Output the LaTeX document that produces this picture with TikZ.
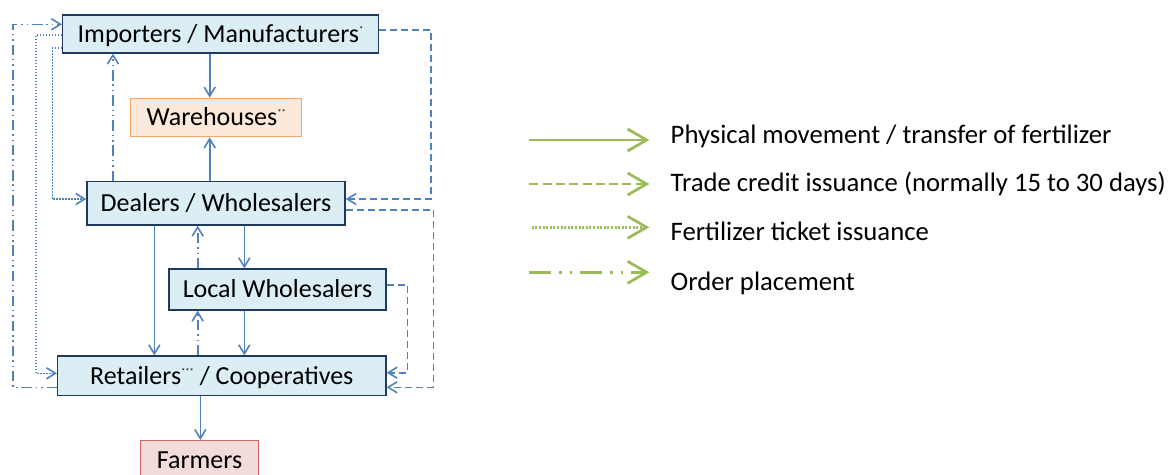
\documentclass[tikz,border=0pt]{standalone}
\usepackage{fontspec}
\setmainfont{Carlito}
\usetikzlibrary{arrows.meta}
\definecolor{lnblue}{HTML}{4F81BD}
\definecolor{boxdraw}{HTML}{1F3A60}
\definecolor{boxfill}{HTML}{DBEEF4}
\definecolor{whfill}{HTML}{FDE9D9}
\definecolor{whdraw}{HTML}{F8A65E}
\definecolor{fmfill}{HTML}{F2DCDB}
\definecolor{fmdraw}{HTML}{CD6461}
\definecolor{legc}{HTML}{9BBB59}
\newcommand{\tinystar}[1]{\raisebox{10pt}{\fontsize{8.5}{8.5}\selectfont #1}}
\tikzset{
  nodebox/.style={draw=boxdraw, fill=boxfill, line width=1.4pt, inner sep=0pt,
    text height=16.7pt, text depth=0pt},
  whbox/.style={nodebox, draw=whdraw, fill=whfill},
  fmbox/.style={nodebox, draw=fmdraw, fill=fmfill},
  conn/.style={draw=lnblue, line width=1.6pt, -{Straight Barb[length=9pt,width=11pt]}},
  flowphys/.style={conn},
  flowcredit/.style={conn, dash pattern=on 7pt off 4pt},
  flowticket/.style={conn, dash pattern=on 1.5pt off 1.5pt},
  floworder/.style={conn, dash pattern=on 10.4pt off 3.9pt on 1.5pt off 3.9pt on 1.5pt off 3.9pt},
  legline/.style={draw=legc, line width=2.7pt, -{Straight Barb[length=19pt,width=22pt]}},
  legtext/.style={anchor=base west, inner sep=0pt, font=\fontsize{26.7}{30}\selectfont}
}
\begin{document}
\begin{tikzpicture}[x=1pt,y=-1pt,font=\fontsize{26}{30}\selectfont]
\useasboundingbox (0,0) rectangle (1170,474);
\clip (0,0) rectangle (1170,474);

% nodes
\node[nodebox, minimum width=315.6pt, minimum height=37.7pt] (imp) at (220.5,34) {Importers / Manufacturers\tinystar{*}};
\node[whbox, minimum width=171pt, minimum height=38.4pt] (wh) at (216.2,117.5) {Warehouses\tinystar{**}};
\node[nodebox, minimum width=258pt, minimum height=43.3pt] (dl) at (216,203.3) {Dealers / Wholesalers};
\node[nodebox, minimum width=217pt, minimum height=41pt] (lw) at (277.5,289.5) {Local Wholesalers};
\node[nodebox, minimum width=328.3pt, minimum height=39.3pt] (rt) at (221.8,375.7) {Retailers\tinystar{***} / Cooperatives};
\node[fmbox, minimum width=117.6pt, minimum height=39.6pt] (fm) at (199.5,460.5) {Farmers};

% lane coordinates
\coordinate (xa) at (209.7,0);
\coordinate (xb) at (113,0);
\coordinate (xc) at (154.3,0);
\coordinate (xd) at (244.3,0);
\coordinate (xe) at (197.7,0);
\coordinate (xf) at (200.3,0);

% vertical connectors
\draw[flowphys] (imp.south -| xa) -- (wh.north -| xa);
\draw[flowphys] (dl.north -| xa) -- (wh.south -| xa);
\draw[floworder] (dl.north -| xb) -- (imp.south -| xb);
\draw[flowphys] (dl.south -| xc) -- (rt.north -| xc);
\draw[flowphys] (dl.south -| xd) -- (lw.north -| xd);
\draw[floworder] (lw.north -| xe) -- (dl.south -| xe);
\draw[flowphys] (lw.south -| xd) -- (rt.north -| xd);
\draw[floworder] (rt.north -| xe) -- (lw.south -| xe);
\draw[flowphys] (rt.south -| xf) -- (fm.north -| xf);

% left lanes
\coordinate (L1a) at (12.7,387.3);
\coordinate (L1b) at (12.7,24.3);
\draw[floworder] (rt.west |- L1a) -- (L1a) -- (L1b) -- (imp.west |- L1b);
\coordinate (L2a) at (35.7,35);
\coordinate (L2b) at (35.7,373.3);
\draw[flowticket] (imp.west |- L2a) -- (L2a) -- (L2b) -- (rt.west |- L2b);
\coordinate (L3a) at (52.3,47.7);
\coordinate (L3b) at (52.3,199);
\draw[flowticket] (imp.west |- L3a) -- (L3a) -- (L3b) -- (dl.west |- L3b);

% right lanes
\coordinate (R1a) at (431,30);
\coordinate (R1b) at (431,199);
\draw[flowcredit] (imp.east |- R1a) -- (R1a) -- (R1b) -- (dl.east |- R1b);
\coordinate (R2a) at (433.3,210);
\coordinate (R2b) at (433.3,387.3);
\draw[flowcredit] (dl.east |- R2a) -- (R2a) -- (R2b) -- (rt.east |- R2b);
\coordinate (R3a) at (407.3,285);
\coordinate (R3b) at (407.3,372.7);
\draw[flowcredit] (lw.east |- R3a) -- (R3a) -- (R3b) -- (rt.east |- R3b);

% legend
\coordinate (g1s) at (529.3,140);   \coordinate (g1e) at (649.3,140);
\coordinate (g2s) at (529.3,184);   \coordinate (g2e) at (649.3,184);
\coordinate (g3s) at (531.7,227.3); \coordinate (g3e) at (649.3,227.3);
\coordinate (g4s) at (529.3,272.3); \coordinate (g4e) at (649.3,272.3);
\draw[legline] (g1s) -- (g1e);
\draw[legline, dash pattern=on 9pt off 4.3pt] (g2s) -- (g2e);
\draw[legline, dash pattern=on 2pt off 1.6pt] (g3s) -- (g3e);
\draw[legline, dash pattern=on 21.6pt off 8pt on 2.7pt off 8pt on 2.7pt off 8pt] (g4s) -- (g4e);
\node[legtext] (t1) at (670.5,143.3) {Physical movement / transfer of fertilizer};
\node[legtext] (t2) at (670.5,191.7) {Trade credit issuance (normally 15 to 30 days)};
\node[legtext] (t3) at (670.5,240) {Fertilizer ticket issuance};
\node[legtext] (t4) at (670.5,290) {Order placement};
\end{tikzpicture}
\end{document}
